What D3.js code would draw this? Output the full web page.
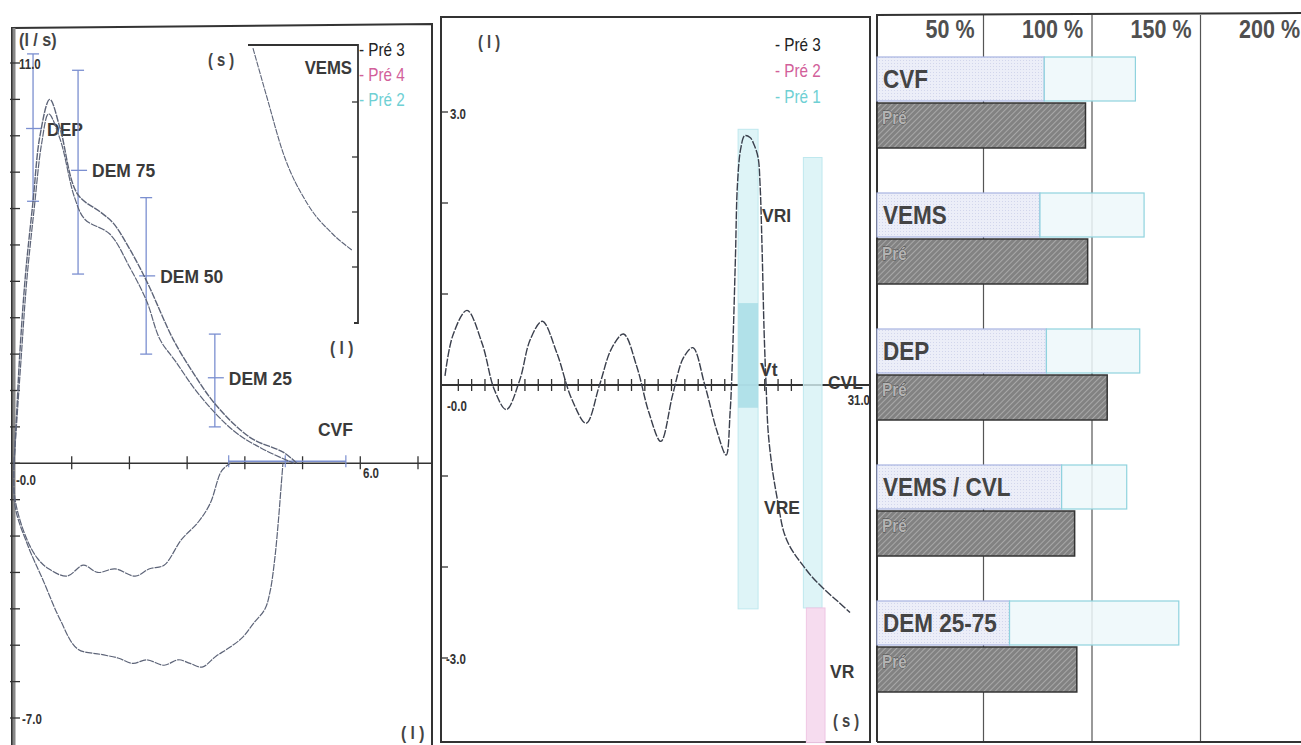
<!DOCTYPE html>
<html>
<head>
<meta charset="utf-8">
<script src="https://cdn.jsdelivr.net/npm/d3@7"></script>
<style>
  body { margin: 0; background: #fff; }
  svg { display: block; }
  text { font-family: "Liberation Sans", Arial, sans-serif; fill: #333; }
</style>
</head>
<body>
<svg id="chart" width="1301" height="745"></svg>
<script>
// ---- flow / volume (left) ----
const fvVol1 = [0, 0.05, 0.1, 0.2, 0.33, 0.45, 0.62, 0.8, 1.1, 1.5, 1.72, 2.0, 2.3, 2.76, 3.1, 3.5, 4.1, 4.67, 4.9];
const fvFlow1 = [0, 1.5, 3.0, 5.2, 7.2, 9.0, 10.0, 9.2, 7.4, 6.9, 6.6, 5.9, 5.0, 3.4, 2.5, 1.6, 0.7, 0.3, 0];
const fvVol2 = [0, 0.05, 0.12, 0.22, 0.35, 0.48, 0.6, 0.8, 1.05, 1.23, 1.66, 2.0, 2.3, 2.53, 2.8, 3.2, 3.8, 4.3, 4.85];
const fvFlow2 = [0, 1.2, 2.8, 5.0, 7.0, 8.8, 9.6, 8.9, 7.3, 6.7, 6.3, 5.4, 4.45, 3.4, 2.8, 1.9, 0.9, 0.4, 0];
const inVolA = [0, 0.02, 0.2, 0.4, 0.6, 0.92, 1.2, 1.45, 1.75, 2.1, 2.35, 2.6, 2.9, 3.2, 3.4, 3.6, 3.75];
const inFlowA = [0, -1.0, -2.0, -2.6, -2.9, -3.1, -2.8, -3.0, -2.9, -3.1, -2.9, -2.8, -2.1, -1.6, -1.1, -0.2, 0];
const inVolB = [0, 0.02, 0.25, 0.5, 0.8, 1.1, 1.5, 1.8, 2.06, 2.3, 2.6, 2.85, 3.05, 3.26, 3.5, 3.7, 3.95, 4.15, 4.35, 4.44, 4.52, 4.58, 4.63, 4.66];
const inFlowB = [0, -1.2, -2.3, -3.2, -4.3, -5.1, -5.25, -5.35, -5.5, -5.4, -5.55, -5.4, -5.5, -5.6, -5.3, -5.1, -4.8, -4.4, -4.0, -3.5, -2.6, -1.6, -0.6, 0];

// predicted ranges (error bars)
const errNames = ["DEP", "DEM 75", "DEM 50", "DEM 25"];
const errVol = [0.33, 1.11, 2.29, 3.48];
const errLo = [7.2, 5.2, 3.0, 1.0];
const errHi = [11.25, 10.8, 7.3, 3.55];
const errMid = [9.2, 8.05, 5.15, 2.35];
const cvfRange = [3.72, 4.7, 5.75];

// VEMS inset (volume / time)
const insetT = [0.045, 0.17, 0.32, 0.54, 0.77, 0.95];
const insetV = [0.02, 0.9, 1.93, 2.85, 3.4, 3.7];

const fvLegend = ["Pré 3", "Pré 4", "Pré 2"];
const spLegend = ["Pré 3", "Pré 2", "Pré 1"];
const legendColors = ["#222", "#d2609a", "#6fd0d4"];

// ---- spirogram (middle) ----
const spT = [0, 0.6, 1.65, 2.8, 3.7, 4.6, 5.6, 6.4, 7.3, 8.4, 9.5, 10.6, 11.6, 12.5, 13.4, 14.4, 15.3, 16.2, 17.1, 17.9, 18.6, 19.5, 20.4, 21.1,
             21.4, 21.6, 21.8, 21.95, 22.2, 22.5, 22.9, 23.2, 23.5, 23.65, 23.8, 23.95, 24.1, 24.25, 24.5, 24.7, 25.0, 25.4, 25.8, 26.2, 26.8, 27.5, 28.5, 29.5, 30.4];
const spV = [0.1, 0.55, 0.82, 0.45, -0.05, -0.27, 0.05, 0.5, 0.70, 0.35, -0.15, -0.42, 0.0, 0.4, 0.56, 0.2, -0.3, -0.62, -0.1, 0.3, 0.41, 0.0, -0.5, -0.77,
             -0.3, 0.4, 1.4, 2.2, 2.6, 2.74, 2.72, 2.64, 2.5, 2.2, 1.5, 0.6, 0.0, -0.5, -0.85, -1.05, -1.3, -1.6, -1.75, -1.85, -1.97, -2.1, -2.25, -2.38, -2.5];
// predicted volume bars
const volBarT = [[22.0, 23.5], [26.9, 28.3]];
const volBarTop = [2.81, 2.5];
const volBarBottom = [-2.46, -2.45];
const vtBar = [0.9, -0.25];
const vrBar = [-2.45, -3.93];

// ---- percent of predicted (right) ----
const pctCats = ["CVF", "VEMS", "DEP", "VEMS / CVL", "DEM 25-75"];
const predLow = [78, 76, 79, 86, 62];
const predHigh = [120, 124, 122, 116, 140];
const measured = [97, 98, 107, 92, 93];
const pctTicks = [50, 100, 150, 200];

const svg = d3.select('#chart');
const ink = '#333';
const trace = '#5d6478';
const blue = '#7b8fd0';

// narrow text helper (the printout uses a condensed face)
function label(g, x, y, str, size, opt = {}) {
  return g.append('text')
      .attr('transform', `translate(${x},${y}) scale(${opt.sx || 0.82},1)`)
      .attr('font-size', size)
      .attr('font-weight', opt.bold ? 'bold' : null)
      .attr('text-anchor', opt.anchor || 'start')
      .style('fill', opt.color || '#333')
      .text(str);
}

// hatch pattern for measured bars
const defs = svg.append('defs');
const pat = defs.append('pattern')
    .attr('id', 'hatch').attr('patternUnits', 'userSpaceOnUse')
    .attr('width', 4).attr('height', 4)
    .attr('patternTransform', 'rotate(45)');
pat.append('rect').attr('width', 4).attr('height', 4).attr('fill', '#828282');
pat.append('line').attr('x1', 0).attr('y1', 0).attr('x2', 0).attr('y2', 4)
    .attr('stroke', '#bdbdbd').attr('stroke-width', 1.3);
const dots = defs.append('pattern')
    .attr('id', 'dots').attr('patternUnits', 'userSpaceOnUse').attr('width', 3).attr('height', 3);
dots.append('rect').attr('width', 3).attr('height', 3).attr('fill', '#eceef8');
dots.append('rect').attr('width', 1).attr('height', 1).attr('fill', '#d2d6ec');

function zip(a, b) { return a.map((v, i) => [v, b[i]]); }

// ================= LEFT PANEL =================
const fvX = d3.scaleLinear().domain([0, 7]).range([14, 418]);
const fvY = d3.scaleLinear().domain([-7, 11]).range([718, 63]);
const left = svg.append('g');

left.append('path')
    .attr('d', 'M12,745 L12,28 L432,24 L432,745')
    .attr('fill', 'none').attr('stroke', ink).attr('stroke-width', 2);
left.append('line').attr('x1', 14).attr('x2', 14).attr('y1', 28).attr('y2', 745)
    .attr('stroke', '#888').attr('stroke-width', 3);

left.selectAll('.yt').data(d3.range(-7, 12)).enter().append('line')
    .attr('x1', 10).attr('x2', 20)
    .attr('y1', d => fvY(d)).attr('y2', d => fvY(d))
    .attr('stroke', ink).attr('stroke-width', 1.3);
left.append('line').attr('x1', fvX(0)).attr('x2', 432)
    .attr('y1', fvY(0)).attr('y2', fvY(0)).attr('stroke', ink).attr('stroke-width', 1.6);
left.selectAll('.xt').data(d3.range(1, 8)).enter().append('line')
    .attr('x1', d => fvX(d)).attr('x2', d => fvX(d))
    .attr('y1', fvY(0) - 7).attr('y2', fvY(0) + 6)
    .attr('stroke', ink).attr('stroke-width', 1.3);

// CVF predicted range on the axis
left.append('line').attr('x1', fvX(cvfRange[0])).attr('x2', fvX(cvfRange[2]))
    .attr('y1', fvY(0) - 2).attr('y2', fvY(0) - 2).attr('stroke', blue).attr('stroke-width', 1.5);
left.selectAll('.cvt').data(cvfRange).enter().append('line')
    .attr('x1', d => fvX(d)).attr('x2', d => fvX(d))
    .attr('y1', fvY(0) - 8).attr('y2', fvY(0) + 4).attr('stroke', blue).attr('stroke-width', 1.2);

// error bars
errNames.forEach((n, i) => {
  const g = left.append('g').attr('stroke', blue).attr('stroke-width', 1.3);
  const x = fvX(errVol[i]);
  g.append('line').attr('x1', x).attr('x2', x).attr('y1', fvY(errHi[i])).attr('y2', fvY(errLo[i]));
  [errHi[i], errLo[i]].forEach(v => g.append('line')
      .attr('x1', x - 6).attr('x2', x + 6).attr('y1', fvY(v)).attr('y2', fvY(v)));
  g.append('line').attr('x1', x - 7).attr('x2', x + 9).attr('y1', fvY(errMid[i])).attr('y2', fvY(errMid[i]));
  label(left, x + 14, fvY(errMid[i]) + 7, n, 19, { bold: true, sx: 0.92, color: '#3a3a3a' });
});

const fvLine = d3.line().x(d => fvX(d[0])).y(d => fvY(d[1])).curve(d3.curveCatmullRom);
[[fvVol1, fvFlow1, 1.4], [fvVol2, fvFlow2, 1.2], [inVolA, inFlowA, 1.2], [inVolB, inFlowB, 1.2]].forEach(([a, b, w]) => {
  left.append('path').attr('d', fvLine(zip(a, b)))
      .attr('fill', 'none').attr('stroke', trace).attr('stroke-width', w)
      .attr('stroke-dasharray', '7 1');
});

// VEMS inset
const inX = d3.scaleLinear().domain([0, 1]).range([248, 358]);
const inY = d3.scaleLinear().domain([0, 5]).range([47, 322]);
left.append('path').attr('d', `M${inX(0)},${inY(0) - 2} H${inX(1)} V${inY(5) + 1} H${inX(1) - 4}`)
    .attr('fill', 'none').attr('stroke', ink).attr('stroke-width', 1.8);
left.selectAll('.it').data(d3.range(1, 5)).enter().append('line')
    .attr('x1', inX(1) - 6).attr('x2', inX(1))
    .attr('y1', d => inY(d)).attr('y2', d => inY(d)).attr('stroke', ink).attr('stroke-width', 1.3);
left.append('path')
    .attr('d', d3.line().x(d => inX(d[0])).y(d => inY(d[1])).curve(d3.curveMonotoneX)(zip(insetT, insetV)))
    .attr('fill', 'none').attr('stroke', trace).attr('stroke-width', 1.1).attr('stroke-dasharray', '6 1');
label(left, 208, 66, '( s )', 18, { bold: true, color: '#444' });
label(left, 352, 74, 'VEMS', 19, { anchor: 'end', bold: true, sx: 0.88, color: '#3a3a3a' });
label(left, 330, 354, '( l )', 19, { bold: true, color: '#444' });

fvLegend.forEach((s, i) => {
  label(left, 359, 56 + i * 25, '- ' + s, 18, { color: legendColors[i], sx: 0.85 });
});

label(left, 19, 46, '(l / s)', 19, { sx: 0.85, bold: true, color: '#444' });
label(left, 19, 69, '11.0', 14, { bold: true });
label(left, 16, 485, '-0.0', 14, { bold: true });
label(left, 363, 478, '6.0', 14, { bold: true });
label(left, 22, 724, '-7.0', 14, { bold: true });
label(left, 401, 739, '( l )', 19, { bold: true, color: '#444' });
label(left, 318, 436, 'CVF', 19, { bold: true, sx: 0.92, color: '#3a3a3a' });

// ================= MIDDLE PANEL =================
const spX = d3.scaleLinear().domain([0, 31]).range([445, 858]);
const spY = d3.scaleLinear().domain([-3, 3]).range([658, 112]);
const mid = svg.append('g');
mid.append('rect').attr('x', 441).attr('y', 17).attr('width', 429).attr('height', 725)
    .attr('fill', 'none').attr('stroke', ink).attr('stroke-width', 2);

mid.selectAll('.yt').data(d3.range(-3, 4)).enter().append('line')
    .attr('x1', 441).attr('x2', 448)
    .attr('y1', d => spY(d)).attr('y2', d => spY(d)).attr('stroke', ink).attr('stroke-width', 1.3);
mid.append('line').attr('x1', 441).attr('x2', 870).attr('y1', spY(0)).attr('y2', spY(0))
    .attr('stroke', ink).attr('stroke-width', 1.8);
mid.selectAll('.xt').data(d3.range(1, 28).filter(t => t < 21.8 || (t > 23.7 && t < 26.6))).enter().append('line')
    .attr('x1', d => spX(d)).attr('x2', d => spX(d))
    .attr('y1', spY(0) - 6).attr('y2', spY(0) + 6).attr('stroke', ink).attr('stroke-width', 1.3);

volBarT.forEach((tt, i) => {
  mid.append('rect').attr('x', spX(tt[0])).attr('width', spX(tt[1]) - spX(tt[0]))
      .attr('y', spY(volBarTop[i])).attr('height', spY(volBarBottom[i]) - spY(volBarTop[i]))
      .attr('fill', '#d6f1f5').attr('fill-opacity', 0.8).attr('stroke', '#bfe8ee').attr('stroke-width', 1);
});
mid.append('rect').attr('x', spX(volBarT[0][0])).attr('width', spX(volBarT[0][1]) - spX(volBarT[0][0]))
    .attr('y', spY(vtBar[0])).attr('height', spY(vtBar[1]) - spY(vtBar[0]))
    .attr('fill', '#a9dde6').attr('fill-opacity', 0.85);
mid.append('rect').attr('x', spX(volBarT[1][0]) + 3).attr('width', spX(volBarT[1][1]) - spX(volBarT[1][0]))
    .attr('y', spY(vrBar[0])).attr('height', spY(vrBar[1]) - spY(vrBar[0]))
    .attr('fill', '#f6dcef').attr('stroke', '#efc6e4');

mid.append('path')
    .attr('d', d3.line().x(d => spX(d[0])).y(d => spY(d[1])).curve(d3.curveCatmullRom)(zip(spT, spV)))
    .attr('fill', 'none').attr('stroke', '#3a3f4c').attr('stroke-width', 1.4).attr('stroke-dasharray', '8 1.5');

label(mid, 478, 48, '( l )', 18, { bold: true, color: '#444' });
label(mid, 450, 119, '3.0', 14, { bold: true });
label(mid, 446, 664, '-3.0', 14, { bold: true });
label(mid, 447, 411, '-0.0', 14, { bold: true });
label(mid, 870, 405, '31.0', 14, { bold: true, anchor: 'end' });
[['VRI', 762, 222], ['Vt', 760, 376], ['CVL', 828, 389], ['VRE', 764, 514], ['VR', 830, 678]].forEach(([s, x, y]) =>
  label(mid, x, y, s, 19, { bold: true, sx: 0.92, color: '#3a3a3a' }));
label(mid, 833, 727, '( s )', 18, { bold: true, color: '#444' });
spLegend.forEach((s, i) => {
  label(mid, 775, 51 + i * 26, '- ' + s, 18, { color: legendColors[i], sx: 0.85 });
});

// ================= RIGHT PANEL =================
const pX = d3.scaleLinear().domain([0, 200]).range([875, 1309]);
const rows = d3.scaleBand().domain(pctCats).range([17, 697]);
const right = svg.append('g');

right.selectAll('.grid').data(pctTicks).enter().append('line')
    .attr('x1', d => pX(d)).attr('x2', d => pX(d)).attr('y1', 15).attr('y2', 742)
    .attr('stroke', '#555').attr('stroke-width', 1.2);
right.append('path').attr('d', 'M877,742 L877,15 L1301,13')
    .attr('fill', 'none').attr('stroke', ink).attr('stroke-width', 2);
right.append('line').attr('x1', 877).attr('x2', 1301).attr('y1', 742).attr('y2', 742)
    .attr('stroke', ink).attr('stroke-width', 2);
pctTicks.forEach(d => label(right, pX(d) - 9, 38, d + ' %', 25, { bold: true, anchor: 'end', color: '#505050', sx: 0.86 }));

pctCats.forEach((c, i) => {
  const y0 = rows(c) + 40;
  right.append('rect').attr('x', pX(0) + 2).attr('y', y0)
      .attr('width', pX(predLow[i]) - pX(0) - 2).attr('height', 44)
      .attr('fill', 'url(#dots)').attr('stroke', '#a8b4e2').attr('stroke-width', 1.2);
  right.append('rect').attr('x', pX(predLow[i])).attr('y', y0)
      .attr('width', pX(predHigh[i]) - pX(predLow[i])).attr('height', 44)
      .attr('fill', '#edf8fa').attr('fill-opacity', 0.85).attr('stroke', '#8fd3de').attr('stroke-width', 1.2);
  label(right, 883, y0 + 31, c, 25, { bold: true, color: '#444', sx: 0.9 });
  right.append('rect').attr('x', pX(0) + 2).attr('y', y0 + 46)
      .attr('width', pX(measured[i]) - pX(0) - 2).attr('height', 45)
      .attr('fill', 'url(#hatch)').attr('stroke', '#333').attr('stroke-width', 1.5);
  label(right, 882, y0 + 67, 'Pré', 18, { bold: true, color: '#b4b4b4', sx: 0.85 })
      .attr('stroke', '#4a4a4a').attr('stroke-width', 0.9).attr('paint-order', 'stroke');
});
</script>
</body>
</html>
